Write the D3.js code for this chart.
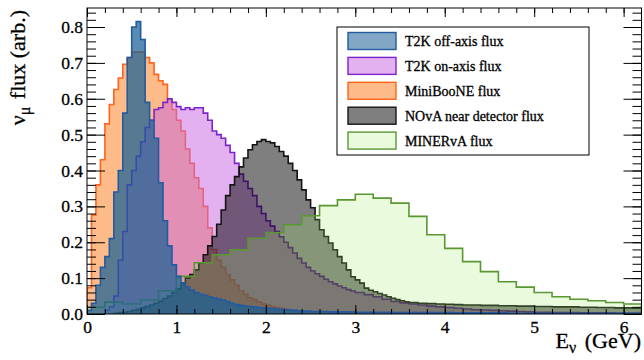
<!DOCTYPE html>
<html lang="en">
<head>
<meta charset="UTF-8">
<title>Neutrino fluxes</title>
<script src="https://d3js.org/d3.v7.min.js"></script>
<style>
  body { margin: 0; background: #fff; }
  text { font-family: "Liberation Serif", "Times New Roman", serif; fill: #000;
         stroke: #000; stroke-width: 0.3px; }
</style>
</head>
<body>
<script>
    const width  = 644;
    const height = 360;

    // bin edges: list of [start, binWidth, count] segments
    function edges(segments) {
        const e = [];
        segments.forEach(([s, w, n]) => {
            for (let i = 0; i < n; i++) e.push(+(s + i * w).toFixed(3));
        });
        const last = segments[segments.length - 1];
        e.push(+(last[0] + last[1] * last[2]).toFixed(3));
        return e;
    }

    const seriesNames = ["T2K off-axis flux", "T2K on-axis flux", "MiniBooNE flux",
                         "NOvA near detector flux", "MINERvA flux"];

    const offAxisEdges = edges([[0, 0.05, 50], [2.5, 0.1, 37]]);
    const offAxisFlux = [
        0.01, 0.03, 0.08, 0.13, 0.16, 0.21, 0.34, 0.40, 0.56, 0.715,
        0.80, 0.815, 0.765, 0.59, 0.54, 0.49, 0.366, 0.26, 0.19, 0.137,
        0.105, 0.087, 0.075, 0.067, 0.06, 0.055, 0.052, 0.048, 0.045, 0.042,
        0.039, 0.035, 0.030, 0.026, 0.024, 0.022, 0.021, 0.020, 0.018, 0.017,
        0.016, 0.015, 0.014, 0.013, 0.012, 0.011, 0.010, 0.009, 0.008, 0.008,
        0.007, 0.007, 0.006, 0.006, 0.006, 0.005, 0.005, 0.005, 0.005, 0.004,
        0.004, 0.004, 0.004, 0.004, 0.004, 0.004, 0.003, 0.003, 0.003, 0.003,
        0.003, 0.003, 0.002, 0.002, 0.002, 0.002, 0.002, 0.002, 0.002, 0.002,
        0.002, 0.002, 0.002, 0.002, 0.002, 0.002, 0.002
    ];

    const onAxisEdges = edges([[0.2, 0.05, 56], [3.0, 0.1, 32]]);
    const onAxisFlux = [
        0.01, 0.02, 0.05, 0.15, 0.23, 0.36, 0.40, 0.44, 0.48, 0.52,
        0.54, 0.57, 0.575, 0.59, 0.60, 0.59, 0.578, 0.57, 0.575, 0.57,
        0.575, 0.575, 0.56, 0.54, 0.51, 0.50, 0.49, 0.47, 0.45, 0.42,
        0.39, 0.37, 0.35, 0.33, 0.30, 0.28, 0.26, 0.245, 0.23, 0.215,
        0.20, 0.185, 0.17, 0.155, 0.142, 0.13, 0.12, 0.112, 0.105, 0.097,
        0.09, 0.084, 0.078, 0.073, 0.068, 0.064,
        0.06, 0.054, 0.048, 0.041, 0.035, 0.031, 0.028, 0.025, 0.022, 0.02,
        0.018, 0.016, 0.014, 0.012, 0.011, 0.01, 0.009, 0.008, 0.007, 0.006,
        0.005, 0.005, 0.004, 0.004, 0.004, 0.003, 0.003, 0.003, 0.003, 0.002,
        0.002, 0.002
    ];

    const miniBooNEEdges = edges([[0, 0.05, 50], [2.5, 0.1, 5]]);
    const miniBooNEFlux = [
        0.073, 0.276, 0.36, 0.43, 0.53, 0.584, 0.626, 0.658, 0.696, 0.715,
        0.73, 0.73, 0.73, 0.715, 0.70, 0.668, 0.65, 0.64, 0.598, 0.57,
        0.54, 0.51, 0.46, 0.42, 0.38, 0.35, 0.30, 0.24, 0.18, 0.15,
        0.13, 0.11, 0.095, 0.08, 0.065, 0.055, 0.045, 0.04, 0.033, 0.028,
        0.024, 0.021, 0.018, 0.016, 0.014, 0.012, 0.01, 0.009, 0.007, 0.006,
        0.005, 0.004, 0.003, 0.002, 0.001
    ];

    const novaEdges = edges([[0.3, 0.05, 66], [3.6, 0.1, 26]]);
    const novaFlux = [
        0.002, 0.004, 0.005, 0.007, 0.01, 0.013, 0.017, 0.021, 0.025, 0.03,
        0.036, 0.043, 0.05, 0.06, 0.07, 0.085, 0.10, 0.11, 0.123, 0.142,
        0.165, 0.19, 0.216, 0.25, 0.29, 0.33, 0.36, 0.383, 0.41, 0.435,
        0.458, 0.472, 0.481, 0.486, 0.481, 0.477, 0.467, 0.453, 0.44, 0.42,
        0.40, 0.374, 0.346, 0.318, 0.296, 0.263, 0.235, 0.216, 0.198, 0.179,
        0.16, 0.142, 0.123, 0.104, 0.095, 0.086, 0.072, 0.066, 0.062, 0.057,
        0.053, 0.048, 0.044, 0.04, 0.037, 0.034,
        0.032, 0.03, 0.029, 0.028, 0.027, 0.026, 0.025, 0.025, 0.024, 0.024,
        0.023, 0.023, 0.022, 0.022, 0.021, 0.021, 0.02, 0.02, 0.02, 0.019,
        0.019, 0.018, 0.018, 0.017, 0.017, 0.016
    ];

    const minervaEdges = edges([[0, 0.2, 31]]);
    const minervaFlux = [
        0.019, 0.033, 0.028, 0.039, 0.065, 0.105, 0.143, 0.165, 0.179, 0.211,
        0.227, 0.249, 0.274, 0.302, 0.318, 0.334, 0.323, 0.309, 0.272, 0.221,
        0.183, 0.146, 0.118, 0.090, 0.075, 0.060, 0.048, 0.041, 0.037, 0.032,
        0.028
    ];

    const xMajor = [0, 1, 2, 3, 4, 5, 6];
    const yMajor = [0, 0.1, 0.2, 0.3, 0.4, 0.5, 0.6, 0.7, 0.8];

    // style per series
    const styles = [
        {fill: "rgb(25,95,150)",   op: 0.72, line: "rgb(35,90,160)",  legOp: 0.55},
        {fill: "rgb(200,100,225)", op: 0.5,  line: "rgb(125,35,205)", legOp: 0.5},
        {fill: "rgb(250,120,20)",  op: 0.5,  line: "rgb(255,100,30)", legOp: 0.5},
        {fill: "rgb(0,0,0)",       op: 0.5,  line: "rgb(20,20,20)",   legOp: 0.5},
        {fill: "rgb(160,230,100)", op: 0.22, line: "rgb(90,150,50)",  legOp: 0.22}
    ];

    const hists = [
        {edges: offAxisEdges, vals: offAxisFlux},
        {edges: onAxisEdges, vals: onAxisFlux},
        {edges: miniBooNEEdges, vals: miniBooNEFlux},
        {edges: novaEdges, vals: novaFlux},
        {edges: minervaEdges, vals: minervaFlux}
    ];
    const drawOrder = [2, 1, 3, 4, 0];

    const frame = {left: 87, right: 641.5, top: 8, bottom: 314};

    const x = d3.scaleLinear().domain([0, 6.2]).range([frame.left, frame.right]);
    const y = d3.scaleLinear().domain([0, 0.853]).range([frame.bottom, frame.top]);

    const svg = d3.select("body").append("svg")
        .attr("width", width).attr("height", height);

    svg.append("clipPath").attr("id", "clip")
        .append("rect")
        .attr("x", frame.left).attr("y", frame.top)
        .attr("width", frame.right - frame.left).attr("height", frame.bottom - frame.top);

    const area = d3.area().curve(d3.curveStepAfter)
        .x(d => x(d[0])).y0(y(0)).y1(d => y(d[1]));
    const step = d3.line().curve(d3.curveStepAfter)
        .x(d => x(d[0])).y(d => y(d[1]));

    const plot = svg.append("g").attr("clip-path", "url(#clip)");

    drawOrder.forEach(i => {
        const h = hists[i];
        const n = h.edges.length - 1;
        const pts = h.vals.map((v, k) => [h.edges[k], v]);
        pts.push([h.edges[n], h.vals[n - 1]]);
        plot.append("path").datum(pts)
            .attr("d", area)
            .attr("fill", styles[i].fill)
            .attr("fill-opacity", styles[i].op);
        plot.append("path").datum(pts)
            .attr("d", d => "M" + x(h.edges[0]) + "," + y(0) +
                            step(d).replace(/^M/, "L") +
                            "L" + x(h.edges[n]) + "," + y(0))
            .attr("fill", "none")
            .attr("stroke", styles[i].line)
            .attr("stroke-width", 1.6);
    });

    // axes
    const font = 17.5;
    const minorX = d3.range(0, 31).map(k => k * 0.2);
    const minorY = d3.range(0, 43).map(k => k * 0.02);

    svg.append("g").attr("transform", `translate(0,${frame.bottom})`)
        .call(d3.axisBottom(x).tickValues(minorX).tickSize(-5).tickFormat(""));
    svg.append("g").attr("transform", `translate(0,${frame.bottom})`)
        .call(d3.axisBottom(x).tickValues(xMajor).tickSize(-9).tickPadding(7).tickFormat(d3.format("d")));

    svg.append("g").attr("transform", `translate(0,${frame.top})`)
        .call(d3.axisTop(x).tickValues(minorX).tickSize(-5).tickFormat(""));
    svg.append("g").attr("transform", `translate(0,${frame.top})`)
        .call(d3.axisTop(x).tickValues(xMajor).tickSize(-9).tickFormat(""));

    svg.append("g").attr("transform", `translate(${frame.left},0)`)
        .call(d3.axisLeft(y).tickValues(minorY).tickSize(-9).tickFormat(""));
    svg.append("g").attr("transform", `translate(${frame.left},0)`)
        .call(d3.axisLeft(y).tickValues(yMajor).tickSize(-18).tickPadding(4).tickFormat(d3.format(".1f")));

    svg.append("g").attr("transform", `translate(${frame.right},0)`)
        .call(d3.axisRight(y).tickValues(minorY).tickSize(-9).tickFormat(""));
    svg.append("g").attr("transform", `translate(${frame.right},0)`)
        .call(d3.axisRight(y).tickValues(yMajor).tickSize(-18).tickFormat(""));

    svg.selectAll(".domain").remove();
    svg.selectAll(".tick line").attr("stroke", "#000").attr("stroke-width", 1);
    svg.selectAll(".tick text")
        .attr("font-family", '"Liberation Serif", serif')
        .attr("font-size", font)
        .attr("fill", "#000");

    svg.append("rect")
        .attr("x", frame.left).attr("y", frame.top)
        .attr("width", frame.right - frame.left).attr("height", frame.bottom - frame.top)
        .attr("fill", "none").attr("stroke", "#000").attr("stroke-width", 1);

    // titles
    const yt = svg.append("text")
        .attr("transform", "translate(25,10) rotate(-90)")
        .attr("text-anchor", "end")
        .style("font-size", "22px");
    yt.append("tspan").text("ν");
    yt.append("tspan").attr("dy", 5).style("font-size", "16px").text("μ");
    yt.append("tspan").attr("dy", -5).attr("dx", 2).text(" flux (arb.)");

    const xt = svg.append("text")
        .attr("x", 641).attr("y", 348)
        .attr("text-anchor", "end")
        .style("font-size", "22px");
    xt.append("tspan").text("E");
    xt.append("tspan").attr("dy", 5).style("font-size", "16px").text("ν");
    xt.append("tspan").attr("dy", -5).attr("dx", 3).text(" (GeV)");

    // legend
    const leg = svg.append("g");
    leg.append("rect")
        .attr("x", 337).attr("y", 27).attr("width", 252).attr("height", 128)
        .attr("fill", "#fff").attr("stroke", "#000").attr("stroke-width", 1);
    seriesNames.forEach((name, i) => {
        const cy = 41 + i * 24.9;
        leg.append("rect")
            .attr("x", 348).attr("y", cy - 8.5).attr("width", 48).attr("height", 17)
            .attr("fill", styles[i].fill).attr("fill-opacity", styles[i].legOp)
            .attr("stroke", styles[i].line).attr("stroke-width", 1.4);
        leg.append("text")
            .attr("x", 405).attr("y", cy + 5)
            .style("font-size", "14px")
            .text(name);
    });
</script>
</body>
</html>
